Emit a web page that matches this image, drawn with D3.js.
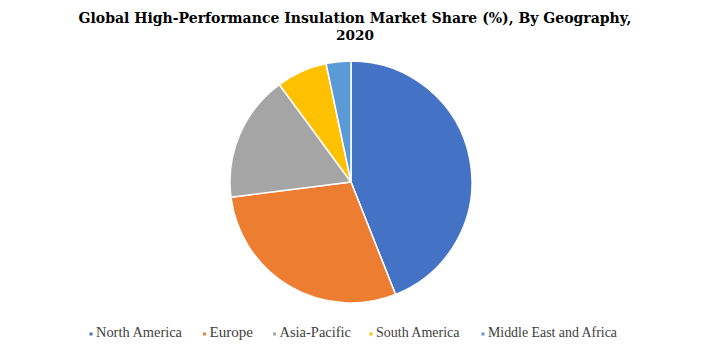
<!DOCTYPE html>
<html><head><meta charset="utf-8">
<script src="https://cdn.jsdelivr.net/npm/d3@7"></script>
<style>html,body{margin:0;padding:0;background:#fff;}</style>
</head><body>
<svg id="chart" width="703" height="351"></svg>
<script>
const categories = ["North America", "Europe", "Asia-Pacific", "South America", "Middle East and Africa"];
const shares = [44.0, 29.0, 16.9, 6.8, 3.3];
const colors = ["#4472C4", "#ED7D31", "#A5A5A5", "#FFC000", "#5B9BD5"];
const titleLines = ["Global High-Performance Insulation Market Share (%), By Geography,", "2020"];

const svg = d3.select("#chart");
const W = 703, H = 351;
const cx = 351, cy = 182, r = 121;

const t = svg.append("g").attr("font-family", "'DejaVu Serif', serif").attr("font-weight", "bold").attr("fill", "#000");
t.append("text").attr("x", 355).attr("y", 23).attr("text-anchor", "middle").attr("font-size", 15.5)
  .attr("textLength", 553).attr("lengthAdjust", "spacingAndGlyphs").text(titleLines[0]);
t.append("text").attr("x", 355).attr("y", 40).attr("text-anchor", "middle").attr("font-size", 13)
  .attr("textLength", 38).attr("lengthAdjust", "spacingAndGlyphs").text(titleLines[1]);

const pie = d3.pie().sort(null).value(d => d)(shares);
const arc = d3.arc().innerRadius(0).outerRadius(r);
svg.append("g").attr("transform", `translate(${cx},${cy})`)
  .selectAll("path").data(pie).join("path")
  .attr("d", arc).attr("fill", (d, i) => colors[i])
  .attr("stroke", "#fff").attr("stroke-width", 1.5).attr("stroke-linejoin", "round");

const legendX = [89.5, 203, 273, 369.5, 481.5];
const legendW = [86, 43.5, 71.5, 83.5, 129];
const lg = svg.append("g").attr("font-family", "'Liberation Serif', serif").attr("font-size", 15).attr("fill", "#404040");
categories.forEach((c, i) => {
  const g = lg.append("g").attr("transform", `translate(${legendX[i]},337)`);
  g.append("rect").attr("x", 0).attr("y", -4.5).attr("width", 3).attr("height", 3).attr("fill", colors[i]);
  g.append("text").attr("x", 6.5).attr("y", 0).attr("textLength", legendW[i]).attr("lengthAdjust", "spacingAndGlyphs").text(c);
});
</script>
</body></html>
